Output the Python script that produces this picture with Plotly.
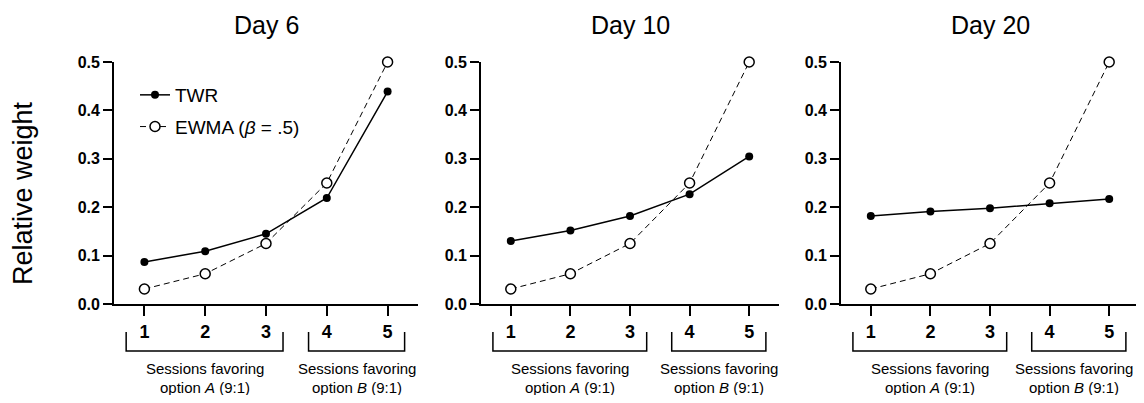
import plotly.graph_objects as go

# ---- data ----
sessions = [1, 2, 3, 4, 5]
days = ["Day 6", "Day 10", "Day 20"]
twr_day6 = [0.087, 0.109, 0.145, 0.219, 0.439]
twr_day10 = [0.130, 0.152, 0.182, 0.227, 0.305]
twr_day20 = [0.182, 0.191, 0.198, 0.208, 0.217]
ewma_values = [0.031, 0.0625, 0.125, 0.25, 0.5]
twr_series = [twr_day6, twr_day10, twr_day20]
y_ticks = [0.0, 0.1, 0.2, 0.3, 0.4, 0.5]
group_starts = [1, 4]
group_ends = [3, 5]
group_line1 = ["Sessions favoring", "Sessions favoring"]
group_line2 = ["option <i>A</i> (9:1)", "option <i>B</i> (9:1)"]

PAGE_W, PAGE_H = 1144, 403
OFF = 8  # page body margin
W, H = PAGE_W - OFF, PAGE_H - 2 * OFF
FONT = "Liberation Sans, Arial, sans-serif"


def px_x(p):
    return (p - OFF) / W


def px_y(p):
    return 1 - (p - OFF) / H


x_domains = [(114, 418), (481, 779), (841, 1139)]
y_dom = [px_y(304), px_y(62)]

fig = go.Figure()

for i, (day, twr) in enumerate(zip(days, twr_series)):
    n = "" if i == 0 else str(i + 1)
    xa, ya = "x" + n, "y" + n
    fig.add_trace(go.Scatter(
        x=sessions, y=twr, xaxis=xa, yaxis=ya, mode="lines+markers",
        name="TWR", showlegend=(i == 0), legendgroup="twr",
        line=dict(color="black", width=1.5),
        marker=dict(symbol="circle", size=8, color="black"),
        cliponaxis=False,
    ))
    fig.add_trace(go.Scatter(
        x=sessions, y=ewma_values, xaxis=xa, yaxis=ya, mode="lines+markers",
        name="EWMA (<i>β</i> = .5)", showlegend=(i == 0), legendgroup="ewma",
        line=dict(color="black", width=1, dash="6px,4px"),
        marker=dict(symbol="circle", size=10, color="white",
                    line=dict(color="black", width=1.5)),
        cliponaxis=False,
    ))
    d0, d1 = x_domains[i]
    fig.update_layout(**{
        ("xaxis" + n): dict(
            domain=[px_x(d0), px_x(d1)], anchor=ya, range=[0.5, 5.5],
            tickvals=sessions, ticks="outside", ticklen=10, tickwidth=1.8,
            tickcolor="black", showline=True, linecolor="black", linewidth=1.8,
            showgrid=False, zeroline=False, automargin=False,
            tickfont=dict(family=FONT, size=18, color="black", weight="bold"),
            fixedrange=True,
        ),
        ("yaxis" + n): dict(
            domain=y_dom, anchor=xa, range=[0, 0.5],
            tickvals=y_ticks, tickformat=".1f", ticks="outside", ticklen=9,
            tickwidth=1.8, tickcolor="black", showline=True, linecolor="black",
            linewidth=1.8, showgrid=False, zeroline=False, automargin=False,
            tickfont=dict(family=FONT, size=16, color="black", weight="bold"),
            fixedrange=True,
        ),
    })
    # title
    fig.add_annotation(
        text=day, xref="paper", yref="paper",
        x=px_x((d0 + d1) / 2), y=px_y(25), xanchor="center", yanchor="middle",
        showarrow=False, font=dict(family=FONT, size=25, color="black"),
    )
    # brackets
    for g, (s, e, l1, l2) in enumerate(zip(group_starts, group_ends, group_line1, group_line2)):
        x0, x1 = s - 0.3, e + 0.28
        fig.add_shape(type="path", xref=xa, yref="paper",
                      path=f"M {x0},{px_y(332)} L {x0},{px_y(351)} L {x1},{px_y(351)} L {x1},{px_y(332)}",
                      line=dict(color="black", width=1.5))
        cx = (x0 + x1) / 2
        shift = -5 if (i == len(days) - 1 and g == len(group_starts) - 1) else 0
        fig.add_annotation(text=l1, xref=xa, yref="paper", x=cx, y=px_y(368),
                           xanchor="center", yanchor="middle", showarrow=False,
                           xshift=shift,
                           font=dict(family=FONT, size=15, color="black"))
        fig.add_annotation(text=l2, xref=xa, yref="paper", x=cx, y=px_y(387),
                           xanchor="center", yanchor="middle", showarrow=False,
                           xshift=shift,
                           font=dict(family=FONT, size=15, color="black"))

fig.add_annotation(
    text="Relative weight", xref="paper", yref="paper",
    x=px_x(23), y=px_y(193), xanchor="center", yanchor="middle",
    textangle=-90, showarrow=False, font=dict(family=FONT, size=27, color="black"),
)

fig.update_layout(
    template="none",
    width=W, height=H,
    margin=dict(l=0, r=0, t=0, b=0, autoexpand=False),
    paper_bgcolor="white", plot_bgcolor="white",
    showlegend=True,
    legend=dict(x=px_x(135), y=px_y(76), xanchor="left", yanchor="top",
                bgcolor="rgba(0,0,0,0)", tracegroupgap=4,
                font=dict(family=FONT, size=19, color="black")),
)

fig.write_html("out.html")
